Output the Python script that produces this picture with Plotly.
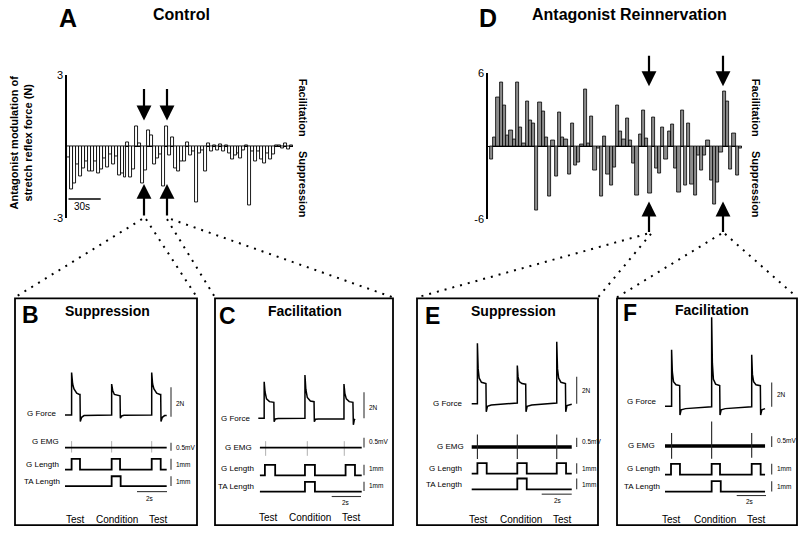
import plotly.graph_objects as go

W, H = 800, 538

# ---------------- data: bar charts (modulation of stretch reflex force, N) ----------------
control_modulation = [
    -0.45, -1.8, -1.55, -0.75, -1.25, -0.9, -0.6, -1.05, -1.05, -0.6,
    -1.1, -0.95, -0.5, -0.85, -0.3, -0.75, -0.4, -1.2, -1.1, -1.3,
    0.2, -1.3, -0.95, 0.86, 0.14, -1.55, -1.0, 0.68, 0.48, -0.75,
    -0.5, -0.3, -1.67, 0.86, -0.35, 0.4, -0.9, -1.03, -0.6, -0.6,
    0.2, -0.35, -0.2, -2.33, -0.28, -0.15, -1.03, 0.16, -0.2, 0.07,
    -0.14, 0.11, -0.2, 0.07, -0.27, -0.55, -0.35, -0.27, -0.48, -0.14,
    0.07, -2.47, -0.2, -0.6, -0.2, -0.55, -0.68, -0.27, -0.55, -0.34,
    0.07, 0.07, -0.07, 0.14, -0.1, 0.05]
reinnervation_modulation = [
    -1.03, 0.77, 4.05, 5.3, 3.4, 0.9, 1.3, 0.57, 5.3, 1.55,
    0.26, 3.7, 2.1, 1.9, -5.3, 3.6, 2.9, 0.77, -4.1, 0.5,
    -2.45, 2.8, 0.7, 0.57, -2.3, 1.9, -1.55, -1.3, 0.13, 4.7,
    0.26, 2.45, -2.0, -0.13, -4.1, 0.82, -2.27, -3.17, -1.75, 3.35,
    1.2, 0.57, 2.27, 0.5, -1.42, -4.07, 0.98, 2.96, 0.64, -3.9,
    2.4, -1.85, -2.2, 1.55, -1.03, 1.24, 1.8, -1.85, -3.8, 2.96,
    -3.2, 1.93, -3.1, -4.07, -0.77, -2.0, -0.77, 0.5, -2.8, -4.77,
    -3.0, -0.5, 4.56, 3.7, -1.93, 1.03, -2.37, -0.13]
control_ticks = [-3, 3]
reinnervation_ticks = [-6, 6]

# ---------------- data: example traces (time s; force N; EMG mV; length mm) ----------------
B_force_t = [0, 0.44, 0.44, 0.51, 0.6, 0.78, 0.96, 1.0, 1.02, 1.11, 1.27,
             3.11, 3.11, 3.18, 3.29, 3.62, 3.67, 3.69, 3.78, 3.93,
             5.78, 5.78, 5.84, 5.93, 6.11, 6.33, 6.38, 6.4, 6.49, 6.64, 6.78]
B_force_N = [0, 0, 2.89, 2.11, 1.78, 1.49, 1.4, 1.4, -0.44, -0.16, -0.04,
             0, 2.11, 1.67, 1.4, 1.31, 1.31, -0.22, -0.07, -0.02,
             0, 2.89, 2.11, 1.78, 1.49, 1.4, 1.4, -0.44, -0.16, -0.04, -0.04]
B_emg_t = [0, 6.78]
B_emg_mV = [0, 0]
B_spike_t = [0.44, 3.11, 5.78]
B_spike_hi = [0.4, 0.4, 0.4]
B_spike_lo = [-0.3, -0.3, -0.3]
B_glen_t = [0, 0.44, 0.44, 1.0, 1.0, 3.11, 3.11, 3.67, 3.67, 5.78, 5.78, 6.38, 6.38, 6.78]
B_glen_mm = [0, 0, 1, 1, 0, 0, 1, 1, 0, 0, 1, 1, 0, 0]
B_ta_t = [0, 3.11, 3.11, 3.71, 3.71, 6.78]
B_ta_mm = [0, 0, 1, 1, 0, 0]

C_force_t = [0, 0.4, 0.4, 0.46, 0.56, 0.76, 1.06, 1.08, 1.16, 1.36,
             3.18, 3.18, 3.24, 3.34, 3.55, 3.8, 3.82, 3.9, 4.1,
             5.84, 5.84, 5.9, 6.0, 6.2, 6.45, 6.48, 6.55, 6.6]
C_force_N = [0, 0, 2.64, 1.9, 1.4, 1.2, 1.15, -0.24, -0.05, -0.02,
             0, 3.13, 2.1, 1.5, 1.25, 1.2, -0.24, -0.07, -0.05,
             -0.05, 2.47, 1.8, 1.4, 1.2, 1.15, -0.47, -0.1, -0.05]
C_emg_t = [0.11, 7.05]
C_emg_mV = [0, 0]
C_spike_t = [0.5, 3.34, 5.86]
C_spike_hi = [0.33, 0.33, 0.33]
C_spike_lo = [-0.42, -0.42, -0.42]
C_glen_t = [0.11, 0.45, 0.45, 1.15, 1.15, 3.18, 3.18, 3.86, 3.86, 5.95, 5.95, 6.59, 6.59, 7.05]
C_glen_mm = [0, 0, 1, 1, 0, 0, 1, 1, 0, 0, 1, 1, 0, 0]
C_ta_t = [0.11, 3.18, 3.18, 3.86, 3.86, 7.05]
C_ta_mm = [0, 0, 1, 1, 0, 0]

E_force_t = [0, 0.38, 0.38, 0.43, 0.5, 0.65, 0.95, 0.97, 1.05, 1.3,
             3.04, 3.04, 3.09, 3.17, 3.35, 3.6, 3.62, 3.7, 4.0,
             5.67, 5.67, 5.72, 5.8, 5.95, 6.25, 6.27, 6.35, 6.67]
E_force_N = [0, 0, 4.51, 2.6, 1.9, 1.6, 1.5, -0.61, -0.2, -0.1,
             0.05, 2.85, 2.0, 1.65, 1.5, 1.45, -0.61, -0.2, -0.1,
             0.05, 4.63, 2.6, 1.9, 1.6, 1.5, -0.61, -0.15, -0.05]
E_emg_t = [0, 6.67]
E_emg_mV = [0, 0]
E_spike_t = [0.38, 3.04, 5.67]
E_spike_hi = [0.68, 0.68, 0.68]
E_spike_lo = [-0.66, -0.66, -0.66]
E_glen_t = [0, 0.38, 0.38, 1.0, 1.0, 3.04, 3.04, 3.67, 3.67, 5.67, 5.67, 6.29, 6.29, 6.67]
E_glen_mm = [0, 0, 1, 1, 0, 0, 1, 1, 0, 0, 1, 1, 0, 0]
E_ta_t = [0, 3.04, 3.04, 3.67, 3.67, 6.67]
E_ta_mm = [0, 0, 1, 1, 0, 0]

F_force_t = [0, 0.45, 0.45, 0.5, 0.58, 0.75, 1.0, 1.02, 1.1, 1.4,
             3.18, 3.18, 3.23, 3.3, 3.45, 3.73, 3.75, 3.83, 4.1,
             5.91, 5.91, 5.96, 6.04, 6.2, 6.5, 6.52, 6.6, 6.82]
F_force_N = [0, 0, 4.61, 2.8, 2.0, 1.75, 1.68, -0.72, -0.3, -0.2,
             -0.05, 7.28, 3.5, 2.2, 1.8, 1.68, -0.72, -0.3, -0.2,
             -0.05, 4.21, 2.6, 2.0, 1.75, 1.68, -0.72, -0.3, -0.2]
F_emg_t = [0, 6.82]
F_emg_mV = [0, 0]
F_spike_t = [0.45, 3.18, 5.91]
F_spike_hi = [0.6, 1.14, 0.6]
F_spike_lo = [-0.6, -0.6, -0.55]
F_glen_t = [0, 0.41, 0.41, 1.02, 1.02, 3.18, 3.18, 3.75, 3.75, 5.91, 5.91, 6.52, 6.52, 6.82]
F_glen_mm = [0, 0, 1, 1, 0, 0, 1, 1, 0, 0, 1, 1, 0, 0]
F_ta_t = [0, 3.18, 3.18, 3.8, 3.8, 6.82]
F_ta_mm = [0, 0, 1, 1, 0, 0]

row_labels = ["G Force", "G EMG", "G Length", "TA Length"]
scale_labels = ["2N", "0.5mV", "1mm", "1mm"]
time_scale_label = "2s"
bottom_labels = ["Test", "Condition", "Test"]

# ---------------- layout helpers (pixel -> paper) ----------------
def px(x):
    return x / W

def py(y):
    return 1 - y / H

FONT = "Liberation Sans, Arial, Helvetica, sans-serif"
annotations = []
shapes = []

def text(t, x, y, size, bold=False, xanchor="center", angle=0):
    annotations.append(dict(
        text=f"<b>{t}</b>" if bold else t, x=px(x), y=py(y), xref="paper", yref="paper",
        showarrow=False, xanchor=xanchor, yanchor="middle", textangle=angle,
        font=dict(size=size, color="black", family=FONT)))

def arrow(x, y_tail, y_head):
    annotations.append(dict(
        x=px(x), y=py(y_head), xref="paper", yref="paper", ax=0, ay=y_tail - y_head,
        text="", showarrow=True, arrowhead=2, arrowsize=1.35, arrowwidth=2.2, arrowcolor="black"))

def seg(x0, y0, x1, y1, width=1.2, color="black", dash=None):
    line = dict(color=color, width=width)
    if dash:
        line["dash"] = dash
    shapes.append(dict(type="line", xref="paper", yref="paper",
                       x0=px(x0), y0=py(y0), x1=px(x1), y1=py(y1), line=line))

fig = go.Figure()
lay = dict(width=W, height=H, margin=dict(l=0, r=0, t=0, b=0), paper_bgcolor="white",
           plot_bgcolor="rgba(0,0,0,0)", showlegend=False, bargap=0,
           font=dict(family=FONT, color="black"))

# ---------------- Panel A ----------------
fig.add_trace(go.Bar(x=list(range(len(control_modulation))), y=control_modulation,
                     marker=dict(color="white", line=dict(color="black", width=0.9)),
                     xaxis="x", yaxis="y", hoverinfo="skip"))
lay["xaxis"] = dict(domain=[px(67), px(293)], range=[-0.5, len(control_modulation) - 0.5],
                    visible=False, anchor="y")
lay["yaxis"] = dict(domain=[py(217), py(71)], range=[-3, 3], tickvals=control_ticks,
                    ticktext=[str(v) for v in control_ticks], ticks="", showgrid=False,
                    showline=True, linecolor="black", linewidth=1.6,
                    zeroline=True, zerolinecolor="black", zerolinewidth=1.3,
                    tickfont=dict(size=11, family=FONT), anchor="x")

# ---------------- Panel D ----------------
fig.add_trace(go.Bar(x=list(range(len(reinnervation_modulation))), y=reinnervation_modulation,
                     marker=dict(color="#8c8c8c", line=dict(color="black", width=0.8)),
                     xaxis="x2", yaxis="y2", hoverinfo="skip"))
lay["xaxis2"] = dict(domain=[px(488), px(742)], range=[-1.12, len(reinnervation_modulation) - 0.5],
                     visible=False, anchor="y2")
lay["yaxis2"] = dict(domain=[py(218.3), py(69)], range=[-6, 6], tickvals=reinnervation_ticks,
                     ticktext=[str(v) for v in reinnervation_ticks], ticks="", showgrid=False,
                     showline=True, linecolor="black", linewidth=1.6,
                     zeroline=True, zerolinecolor="black", zerolinewidth=1.3,
                     tickfont=dict(size=11, family=FONT), anchor="x2")

# titles / labels for A and D
text("A", 68, 12, 25, bold=True)
text("Control", 181, 9, 16, bold=True)
text("D", 488, 12, 25, bold=True)
text("Antagonist Reinnervation", 629, 9, 16, bold=True)
text("Antagonist modulation of<br>stretch reflex force (N)", 20.5, 140, 11, bold=True, angle=-90)
for xr in (303, 756):
    text("Facilitation", xr, 104, 11, bold=True, angle=90)
    text("Suppression", xr, 182, 11, bold=True, angle=90)
seg(68.5, 197.3, 100.7, 197.3, width=1.5)
text("30s", 71.5, 205, 10, xanchor="left")

# arrows
for xa in (144, 167):
    arrow(xa, 84, 117)
    arrow(xa, 215, 182)
for xa in (649, 723):
    arrow(xa, 50, 82)
    arrow(xa, 232, 200)

# dotted connector lines
DOT = "2px,6px"
for (x0, y0, x1, y1) in [(142, 218, 15, 298), (146, 218, 197, 298), (167, 218, 215, 298), (171, 218, 393, 298),
                         (647, 233, 417, 298), (651, 233, 598, 298), (721, 233, 617, 298), (725, 233, 797, 298)]:
    seg(x0, y0, x1, y1, width=2, dash=DOT)

# ---------------- Panels B, C, E, F ----------------
PANELS = [
    dict(letter="B", title="Suppression", box=(15, 299, 197, 531), x_zero=65, pps=15.0,
         zeros=[418.3, 451.7, 474.3, 491.0], ppus=[15.0, 16.7, 11.0, 10.0],
         force=(B_force_t, B_force_N), emg=(B_emg_t, B_emg_mV), spikes=(B_spike_t, B_spike_lo, B_spike_hi),
         glen=(B_glen_t, B_glen_mm), ta=(B_ta_t, B_ta_mm), heavy_emg=False,
         letter_xy=(30, 316), title_xy=(107, 312),
         label_pos=[(58, 417, "right"), (45, 445, "center"), (61, 469, "right"), (62, 486, "right")],
         vbars=[(171, 390, 420), (171, 446.7, 455), (171, 463, 474.3), (171, 481, 491)],
         scale_pos=[(173.5, 406.7), (173.5, 452), (173.5, 469.3), (173.5, 486)],
         hbar=(137, 167, 496.7), hbar_text=(150, 503.5),
         bottom_x=[75, 117, 158], bottom_y=525),
    dict(letter="C", title="Facilitation", box=(215, 299, 393, 531), x_zero=258.3, pps=14.67,
         zeros=[421.7, 451.7, 480.0, 496.7], ppus=[14.17, 20.0, 10.67, 10.0],
         force=(C_force_t, C_force_N), emg=(C_emg_t, C_emg_mV), spikes=(C_spike_t, C_spike_lo, C_spike_hi),
         glen=(C_glen_t, C_glen_mm), ta=(C_ta_t, C_ta_mm), heavy_emg=False,
         letter_xy=(228, 317), title_xy=(305, 312),
         label_pos=[(252, 422.3, "right"), (238, 451.7, "center"), (256, 473.3, "right"), (256, 491.7, "right")],
         vbars=[(364, 395, 421.7), (364, 441.7, 451.7), (364, 469.3, 480), (364, 486.7, 496)],
         scale_pos=[(367, 411), (367, 445), (367, 473.3), (367, 490.7)],
         hbar=(331.7, 361, 501.7), hbar_text=(345.7, 508.3),
         bottom_x=[268.3, 310, 351], bottom_y=523.3),
    dict(letter="E", title="Suppression", box=(417, 299, 598, 531), x_zero=471.7, pps=15.0,
         zeros=[406.7, 451.0, 478.3, 494.3], ppus=[13.67, 18.7, 10.67, 11.0],
         force=(E_force_t, E_force_N), emg=(E_emg_t, E_emg_mV), spikes=(E_spike_t, E_spike_lo, E_spike_hi),
         glen=(E_glen_t, E_glen_mm), ta=(E_ta_t, E_ta_mm), heavy_emg=True,
         letter_xy=(432, 317), title_xy=(513.3, 312),
         label_pos=[(464, 406.7, "right"), (450, 451, "center"), (464, 472.7, "right"), (464, 489, "right")],
         vbars=[(576.7, 379.3, 406.7), (576.7, 441.7, 451), (576.7, 467.7, 478.3), (576.7, 483.3, 494.3)],
         scale_pos=[(580, 393.3), (580, 445), (580, 472.7), (580, 489)],
         hbar=(541.7, 571.7, 499.3), hbar_text=(558.3, 505.5),
         bottom_x=[478.3, 520.7, 562.7], bottom_y=525),
    dict(letter="F", title="Facilitation", box=(617, 299, 797, 531), x_zero=665, pps=14.67,
         zeros=[409.3, 450.0, 479.3, 496.7], ppus=[12.5, 22.0, 11.0, 10.67],
         force=(F_force_t, F_force_N), emg=(F_emg_t, F_emg_mV), spikes=(F_spike_t, F_spike_lo, F_spike_hi),
         glen=(F_glen_t, F_glen_mm), ta=(F_ta_t, F_ta_mm), heavy_emg=True,
         letter_xy=(630, 314), title_xy=(711.7, 311),
         label_pos=[(658.3, 405, "right"), (641.7, 450, "center"), (661.7, 473.3, "right"), (661.7, 491, "right")],
         vbars=[(771.7, 385, 410), (771.7, 440, 451), (771.7, 468.3, 479.3), (771.7, 486, 496.7)],
         scale_pos=[(775, 397.3), (775, 444.3), (775, 473.3), (775, 491)],
         hbar=(736.7, 766, 500.7), hbar_text=(750, 507),
         bottom_x=[671.7, 715, 756.7], bottom_y=525),
]

for i, p in enumerate(PANELS):
    left, top, right, bottom = p["box"]
    xn = 3 + i
    xname = f"x{xn}"
    lay[f"xaxis{xn}"] = dict(domain=[px(left + 1), px(right - 1)],
                             range=[(left + 1 - p["x_zero"]) / p["pps"], (right - 1 - p["x_zero"]) / p["pps"]],
                             visible=False, anchor=f"y{3 + 4 * i}")
    rows = [p["force"], p["emg"], p["glen"], p["ta"]]
    for r in range(4):
        yn = 3 + 4 * i + r
        zero, ppu = p["zeros"][r], p["ppus"][r]
        lay[f"yaxis{yn}"] = dict(domain=[py(bottom - 1), py(top + 1)],
                                 range=[(zero - (bottom - 1)) / ppu, (zero - (top + 1)) / ppu],
                                 visible=False, anchor=xname)
        t, v = rows[r]
        if r == 1:
            width = 3.6 if p["heavy_emg"] else 1.6
            st, lo, hi = p["spikes"]
            sx, sy = [], []
            for tt, l, h in zip(st, lo, hi):
                sx += [tt, tt, None]
                sy += [l, h, None]
            if not p["heavy_emg"]:
                fig.add_trace(go.Scatter(x=sx, y=sy, mode="lines", line=dict(color="#b0b0b0", width=1),
                                         xaxis=xname, yaxis=f"y{yn}", hoverinfo="skip"))
            fig.add_trace(go.Scatter(x=t, y=v, mode="lines", line=dict(color="black", width=width),
                                     xaxis=xname, yaxis=f"y{yn}", hoverinfo="skip"))
            if p["heavy_emg"]:
                fig.add_trace(go.Scatter(x=sx, y=sy, mode="lines", line=dict(color="#222", width=1.1),
                                         xaxis=xname, yaxis=f"y{yn}", hoverinfo="skip"))
        else:
            width = 1.5 if r == 0 else 1.8
            fig.add_trace(go.Scatter(x=t, y=v, mode="lines", line=dict(color="black", width=width),
                                     xaxis=xname, yaxis=f"y{yn}", hoverinfo="skip"))

    shapes.append(dict(type="rect", xref="paper", yref="paper", x0=px(left), y0=py(bottom),
                       x1=px(right), y1=py(top), line=dict(color="black", width=1.8)))
    text(p["letter"], *p["letter_xy"], 23, bold=True)
    text(p["title"], *p["title_xy"], 14, bold=True)
    for lab, (lx, ly, anc) in zip(row_labels, p["label_pos"]):
        text(lab, lx, ly, 8, xanchor=anc)
    for (bx, by0, by1) in p["vbars"]:
        seg(bx, by0, bx, by1, width=1.1, color="#333")
    for lab, (sx_, sy_) in zip(scale_labels, p["scale_pos"]):
        text(lab, sx_, sy_, 6.5, xanchor="left")
    hx0, hx1, hy = p["hbar"]
    seg(hx0, hy, hx1, hy, width=1.1, color="#333")
    text(time_scale_label, *p["hbar_text"], 6.5)
    for lab, bxx in zip(bottom_labels, p["bottom_x"]):
        text(lab, bxx, p["bottom_y"], 10)

lay["annotations"] = annotations
lay["shapes"] = shapes
fig.update_layout(**lay)
fig.write_html("out.html", config={"displayModeBar": False},
               post_script="document.body.style.margin='0';document.body.style.overflow='hidden';")
